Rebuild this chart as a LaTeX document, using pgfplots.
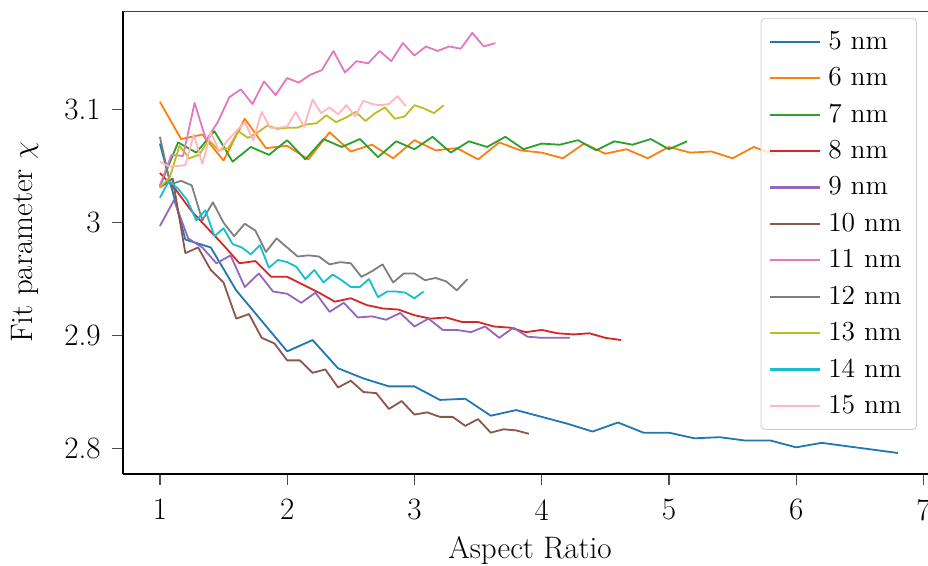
\documentclass[border=0pt]{standalone}
\usepackage{fontspec}
\setmainfont{Latin Modern Roman}
\usepackage{pgfplots}
\pgfplotsset{compat=1.18}
\newcommand\fs{\fontsize{15.6}{18.7}\selectfont}
\newcommand\fl{\fontsize{13.8}{16.5}\selectfont}
\definecolor{c0}{HTML}{1F77B4}
\definecolor{c1}{HTML}{FF7F0E}
\definecolor{c2}{HTML}{2CA02C}
\definecolor{c3}{HTML}{D62728}
\definecolor{c4}{HTML}{9467BD}
\definecolor{c5}{HTML}{8C564B}
\definecolor{c6}{HTML}{E377C2}
\definecolor{c7}{HTML}{7F7F7F}
\definecolor{c8}{HTML}{BCBD22}
\definecolor{c9}{HTML}{17BECF}
\definecolor{c10}{HTML}{FFB6C1}
\begin{document}
\begin{tikzpicture}[font=\fs]
\begin{axis}[
  at={(0,0)}, anchor=south west,
  scale only axis, width=402.5bp, height=231.5bp,
  xmin=0.71, xmax=7.036, ymin=2.7774, ymax=3.1874,
  axis x line*=bottom, axis y line*=left,
  axis line style={line width=0.6bp, black},
  xtick={1,2,3,4,5,6,7}, ytick={2.8,2.9,3,3.1},
  /pgf/number format/assume math mode=true,
  tick align=outside, major tick length=5.5bp,
  every tick/.style={line width=0.6bp, black!70},
  xticklabel style={font=\fs, inner ysep=0pt, yshift=-7bp},
  yticklabel style={font=\fs, inner xsep=0pt, xshift=-5.5bp},
  xlabel={Aspect Ratio}, ylabel={Fit parameter $\chi$},
  every axis x label/.style={font=\fs, at={(rel axis cs:0.5056,0)}, yshift=-38.5bp, anchor=center},
  every axis y label/.style={font=\fs, at={(rel axis cs:0,0.5)}, xshift=-49bp, rotate=90, anchor=center},
  legend style={font=\fl, at={(rel axis cs:0.9863,0.985)}, anchor=north east,
    draw=black!20, rounded corners=2bp, fill=white, fill opacity=0.8, text opacity=1,
    row sep=2.75bp, inner xsep=4bp, inner ysep=4bp,
    nodes={inner xsep=3.5bp, inner ysep=2bp, text height=0.95em, text depth=0.2em}},
  legend cell align=left,
  legend image code/.code={\draw[#1, line width=1.1bp] (0bp,0bp) -- (25bp,0bp);},
  every axis plot/.append style={line width=0.9bp, line join=round},
  clip=true,
]
\addplot[c0] coordinates {(1,3.070)(1.2,2.985)(1.4,2.978)(1.6,2.940)(2.0,2.886)(2.2,2.896)(2.4,2.871)(2.6,2.862)(2.8,2.855)(3.0,2.855)(3.2,2.843)(3.4,2.844)(3.6,2.829)(3.8,2.834)(4.0,2.828)(4.2,2.822)(4.4,2.815)(4.6,2.823)(4.8,2.814)(5.0,2.814)(5.2,2.809)(5.4,2.810)(5.6,2.807)(5.8,2.807)(6.0,2.801)(6.2,2.805)(6.4,2.802)(6.6,2.799)(6.8,2.796)};
\addlegendentry{5 nm}
\addplot[c1] coordinates {(1,3.107)(1.1667,3.074)(1.3333,3.078)(1.5,3.055)(1.6667,3.092)(1.8333,3.066)(2,3.068)(2.1667,3.056)(2.3333,3.080)(2.5,3.063)(2.6667,3.069)(2.8333,3.057)(3,3.073)(3.1667,3.064)(3.3333,3.066)(3.5,3.056)(3.6667,3.071)(3.8333,3.064)(4,3.062)(4.1667,3.057)(4.3333,3.070)(4.5,3.061)(4.6667,3.065)(4.8333,3.057)(5,3.067)(5.1667,3.062)(5.3333,3.063)(5.5,3.057)(5.6667,3.067)(5.8333,3.060)};
\addlegendentry{6 nm}
\addplot[c2] coordinates {(1,3.032)(1.1429,3.071)(1.2857,3.062)(1.4286,3.081)(1.5714,3.054)(1.7143,3.067)(1.8571,3.060)(2,3.073)(2.1429,3.056)(2.2857,3.074)(2.4286,3.067)(2.5714,3.074)(2.7143,3.058)(2.8571,3.072)(3,3.065)(3.1429,3.076)(3.2857,3.062)(3.4286,3.072)(3.5714,3.067)(3.7143,3.076)(3.8571,3.065)(4,3.070)(4.1429,3.069)(4.2857,3.073)(4.4286,3.064)(4.5714,3.072)(4.7143,3.069)(4.8571,3.074)(5,3.065)(5.1429,3.072)};
\addlegendentry{7 nm}
\addplot[c3] coordinates {(1,3.044)(1.125,3.029)(1.25,3.010)(1.375,2.995)(1.5,2.980)(1.625,2.964)(1.75,2.966)(1.875,2.952)(2,2.952)(2.125,2.945)(2.25,2.938)(2.375,2.930)(2.5,2.933)(2.625,2.927)(2.75,2.924)(2.875,2.923)(3,2.918)(3.125,2.915)(3.25,2.916)(3.375,2.912)(3.5,2.912)(3.625,2.908)(3.75,2.907)(3.875,2.903)(4,2.905)(4.125,2.902)(4.25,2.901)(4.375,2.902)(4.5,2.898)(4.625,2.896)};
\addlegendentry{8 nm}
\addplot[c4] coordinates {(1,2.997)(1.1111,3.020)(1.2222,2.986)(1.3333,2.978)(1.4444,2.964)(1.5556,2.971)(1.6667,2.943)(1.7778,2.955)(1.8889,2.939)(2,2.937)(2.1111,2.929)(2.2222,2.938)(2.3333,2.921)(2.4444,2.929)(2.5556,2.916)(2.6667,2.917)(2.7778,2.914)(2.8889,2.920)(3,2.908)(3.1111,2.915)(3.2222,2.905)(3.3333,2.905)(3.4444,2.903)(3.5556,2.908)(3.6667,2.898)(3.7778,2.907)(3.8889,2.899)(4,2.898)(4.1111,2.898)(4.2222,2.898)};
\addlegendentry{9 nm}
\addplot[c5] coordinates {(1,3.031)(1.1,3.039)(1.2,2.973)(1.3,2.978)(1.4,2.958)(1.5,2.947)(1.6,2.915)(1.7,2.919)(1.8,2.898)(1.9,2.893)(2,2.878)(2.1,2.878)(2.2,2.867)(2.3,2.870)(2.4,2.854)(2.5,2.860)(2.6,2.850)(2.7,2.849)(2.8,2.835)(2.9,2.842)(3,2.830)(3.1,2.832)(3.2,2.828)(3.3,2.828)(3.4,2.820)(3.5,2.826)(3.6,2.814)(3.7,2.817)(3.8,2.816)(3.9,2.813)};
\addlegendentry{10 nm}
\addplot[c6] coordinates {(1,3.033)(1.0909,3.060)(1.1818,3.059)(1.2727,3.106)(1.3636,3.073)(1.4545,3.089)(1.5455,3.111)(1.6364,3.118)(1.7273,3.105)(1.8182,3.125)(1.9091,3.113)(2,3.128)(2.0909,3.124)(2.1818,3.131)(2.2727,3.135)(2.3636,3.152)(2.4545,3.133)(2.5455,3.143)(2.6364,3.141)(2.7273,3.152)(2.8182,3.143)(2.9091,3.159)(3,3.148)(3.0909,3.156)(3.1818,3.152)(3.2727,3.156)(3.3636,3.154)(3.4545,3.168)(3.5455,3.156)(3.6364,3.159)};
\addlegendentry{11 nm}
\addplot[c7] coordinates {(1,3.076)(1.0833,3.034)(1.1667,3.037)(1.25,3.033)(1.3333,3.002)(1.4167,3.018)(1.5,3.000)(1.5833,2.988)(1.6667,2.999)(1.75,2.993)(1.8333,2.974)(1.9167,2.986)(2,2.978)(2.0833,2.970)(2.1667,2.971)(2.25,2.970)(2.3333,2.963)(2.4167,2.965)(2.5,2.964)(2.5833,2.952)(2.6667,2.957)(2.75,2.963)(2.8333,2.947)(2.9167,2.955)(3,2.955)(3.0833,2.949)(3.1667,2.951)(3.25,2.948)(3.3333,2.940)(3.4167,2.950)};
\addlegendentry{12 nm}
\addplot[c8] coordinates {(1,3.031)(1.0769,3.040)(1.1538,3.068)(1.2308,3.057)(1.3077,3.060)(1.3846,3.073)(1.4615,3.064)(1.5385,3.066)(1.6154,3.081)(1.6923,3.075)(1.7692,3.080)(1.8462,3.086)(1.9231,3.083)(2,3.084)(2.0769,3.084)(2.1538,3.087)(2.2308,3.088)(2.3077,3.095)(2.3846,3.089)(2.4615,3.093)(2.5385,3.098)(2.6154,3.090)(2.6923,3.097)(2.7692,3.102)(2.8462,3.092)(2.9231,3.094)(3,3.104)(3.0769,3.101)(3.1538,3.097)(3.2308,3.104)};
\addlegendentry{13 nm}
\addplot[c9] coordinates {(1,3.022)(1.0714,3.037)(1.1429,3.030)(1.2143,3.020)(1.2857,3.002)(1.3571,3.011)(1.4286,2.988)(1.5,2.995)(1.5714,2.981)(1.6429,2.978)(1.7143,2.972)(1.7857,2.980)(1.8571,2.960)(1.9286,2.967)(2,2.965)(2.0714,2.961)(2.1429,2.950)(2.2143,2.958)(2.2857,2.947)(2.3571,2.954)(2.4286,2.949)(2.5,2.943)(2.5714,2.943)(2.6429,2.950)(2.7143,2.934)(2.7857,2.939)(2.8571,2.939)(2.9286,2.938)(3,2.933)(3.0714,2.939)};
\addlegendentry{14 nm}
\addplot[c10] coordinates {(1,3.054)(1.0667,3.050)(1.1333,3.050)(1.2,3.051)(1.2667,3.078)(1.3333,3.052)(1.4,3.080)(1.4667,3.063)(1.5333,3.073)(1.6,3.081)(1.6667,3.089)(1.7333,3.073)(1.8,3.098)(1.8667,3.084)(1.9333,3.084)(2,3.085)(2.0667,3.098)(2.1333,3.085)(2.2,3.109)(2.2667,3.097)(2.3333,3.102)(2.4,3.096)(2.4667,3.104)(2.5333,3.094)(2.6,3.108)(2.6667,3.105)(2.7333,3.104)(2.8,3.105)(2.8667,3.112)(2.9333,3.103)};
\addlegendentry{15 nm}
\draw[line width=0.6bp, black!75] (rel axis cs:0,1) -- (rel axis cs:1,1);
\end{axis}
\pgfresetboundingbox
\useasboundingbox (-61.5bp,-46bp) rectangle (402.5bp,237bp);
\end{tikzpicture}
\end{document}
